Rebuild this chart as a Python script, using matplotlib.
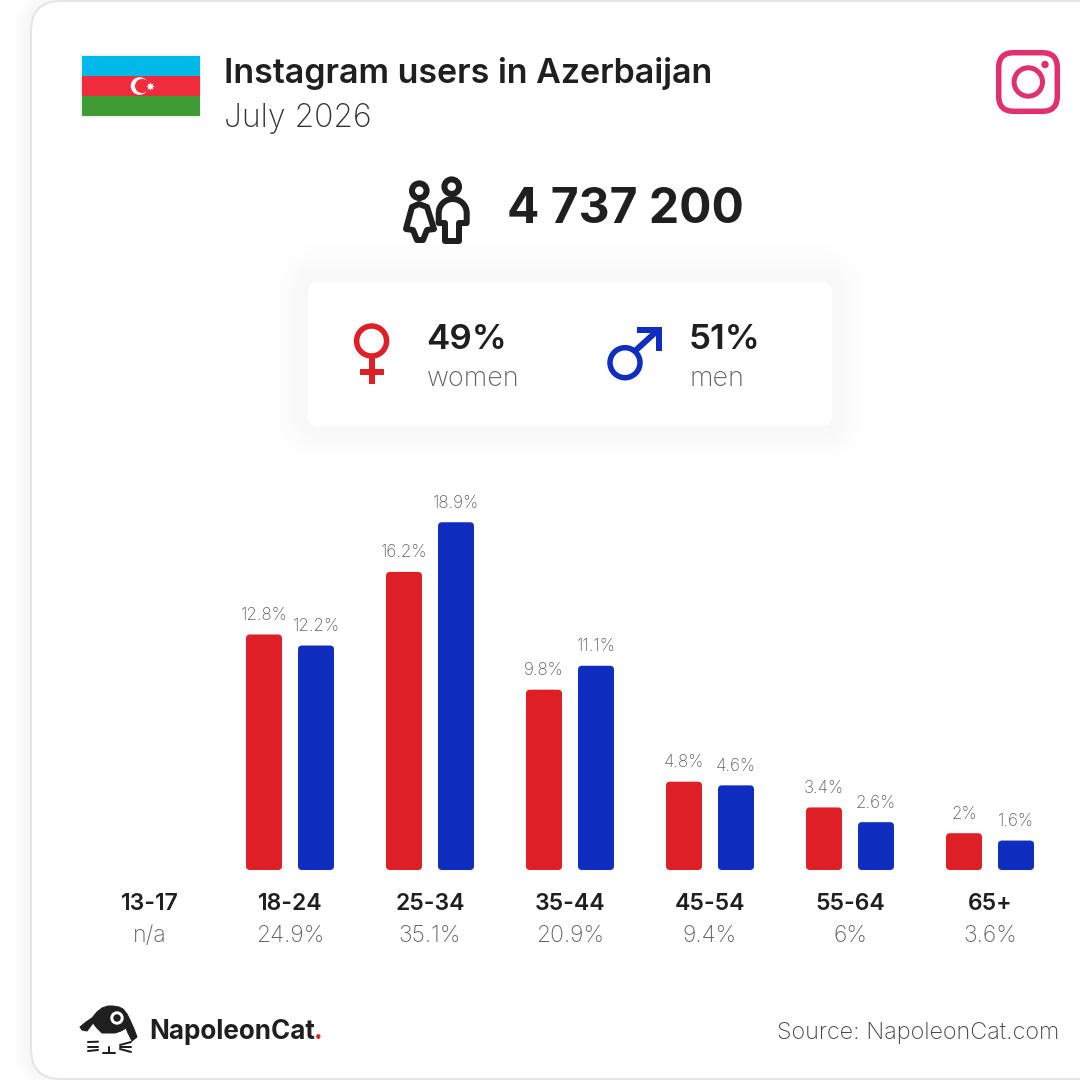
import numpy as np
import matplotlib
matplotlib.use('Agg')
import matplotlib.pyplot as plt
from matplotlib.patches import FancyBboxPatch, Circle, Rectangle, Polygon

age_groups = ['13-17', '18-24', '25-34', '35-44', '45-54', '55-64', '65+']
total_labels = ['n/a', '24.9%', '35.1%', '20.9%', '9.4%', '6%', '3.6%']
women_share = [np.nan, 12.8, 16.2, 9.8, 4.8, 3.4, 2.0]
men_share = [np.nan, 12.2, 18.9, 11.1, 4.6, 2.6, 1.6]
women_labels = ['', '12.8%', '16.2%', '9.8%', '4.8%', '3.4%', '2%']
men_labels = ['', '12.2%', '18.9%', '11.1%', '4.6%', '2.6%', '1.6%']

RED = '#df1f26'
BLUE = '#0f2ec0'
DARK = '#1f1f1f'
GREY = '#626262'
PINK = '#e1306c'
FONT = 'Inter'
LIGHT = 200

PX = 72 / 100  # one pixel in points at dpi 100


def fs(px):
    return px * PX


fig = plt.figure(figsize=(10.8, 10.8), dpi=100, facecolor='white')

# overlay in pixel coordinates for the card, header and icons
bg = fig.add_axes([0, 0, 1, 1])
bg.axis('off')


def round_box(ax, x0, y0, x1, y1, r, **kw):
    p = FancyBboxPatch((x0 + r, y0 + r), x1 - x0 - 2 * r, y1 - y0 - 2 * r,
                       boxstyle=f'round,pad={r},rounding_size={r}', **kw)
    ax.add_patch(p)
    return p


def soft_shadow(ax, x0, y0, x1, y1, r, sigma, strength, zorder):
    # blurred look from the distance to a rounded box
    yy, xx = np.mgrid[0:1080, 0:1080] + 0.5
    cx, cy = (x0 + x1) / 2, (y0 + y1) / 2
    qx = np.abs(xx - cx) - (x1 - x0) / 2 + r
    qy = np.abs(yy - cy) - (y1 - y0) / 2 + r
    d = np.hypot(np.maximum(qx, 0), np.maximum(qy, 0)) + np.minimum(np.maximum(qx, qy), 0) - r
    level = strength * np.exp(-(np.maximum(d, 0) / sigma) ** 2)
    img = 1 - level
    ax.imshow(img, cmap='gray', vmin=0, vmax=1, extent=(0, 1080, 1080, 0), aspect='auto',
              interpolation='nearest', zorder=zorder, alpha=(level > 0.002).astype(float))


# card
soft_shadow(bg, 31, 1, 1180, 1079, 30, 14, 0.035, 0.1)
round_box(bg, 31, 1, 1180, 1079, 30, fc='white', ec='#e4e4e4', lw=2 * PX, zorder=0.2)

# flag
bg.add_patch(Rectangle((80, 54), 121, 64, fc='#f1f1f1', ec='none'))
bg.add_patch(Rectangle((82, 56), 118, 20, fc='#00b9e8', ec='none'))
bg.add_patch(Rectangle((82, 76), 118, 20, fc='#ef2b3c', ec='none'))
bg.add_patch(Rectangle((82, 96), 118, 20, fc='#3f9c35', ec='none'))
bg.add_patch(Circle((139.5, 86), 8.8, fc='white', ec='none'))
bg.add_patch(Circle((142, 86), 7, fc='#ef2b3c', ec='none'))
bg.plot([150], [86], marker=(8, 1, 0), ms=8 * PX * 1.1, color='white', mew=0)

# header
bg.text(224, 74, 'Instagram users in Azerbaijan', fontsize=fs(34), fontweight=600,
        family=FONT, color=DARK, va='center', ha='left')
bg.text(224, 119, 'July 2026', fontsize=fs(32), fontweight=LIGHT,
        family=FONT, color='#333333', va='center', ha='left')
bg.text(507, 210, '4 737 200', fontsize=fs(48), fontweight=700,
        family=FONT, color=DARK, va='center', ha='left')

# instagram icon
round_box(bg, 998.7, 52.7, 1057.3, 111.3, 15, fc='none', ec=PINK, lw=5.5 * PX)
bg.add_patch(Circle((1028.3, 82), 14.2, fc='none', ec=PINK, lw=5 * PX))
bg.add_patch(Circle((1045, 64.5), 3.7, fc=PINK, ec='none'))

# people icon
ICON_LW = 6 * PX
bg.add_patch(Circle((419.3, 190.7), 7.3, fc='none', ec=DARK, lw=ICON_LW))
bg.add_patch(Circle((451.7, 186.7), 7.3, fc='none', ec=DARK, lw=ICON_LW))
woman = [(419, 204), (412, 207), (406, 229), (413, 230), (417, 240), (423, 240),
         (427, 230), (434, 229), (427, 207)]
bg.add_patch(Polygon(woman, closed=True, fc='none', ec=DARK, lw=ICON_LW, joinstyle='round'))
t = np.linspace(np.pi, 0, 20)
dome = [(452.7 + 14 * np.cos(a), 213 - 14 * np.sin(a)) for a in t]
man = [(445, 241), (445, 223), (438.7, 223)] + dome + [(466.7, 223), (459, 223), (459, 241)]
bg.add_patch(Polygon(man, closed=True, fc='none', ec=DARK, lw=ICON_LW, joinstyle='round'))

# gender panel
soft_shadow(bg, 308, 282, 832, 426, 10, 28, 0.028, 0.5)
round_box(bg, 308, 282, 832, 426, 10, fc='white', ec='none')

bg.add_patch(Circle((371.6, 341), 15, fc='none', ec=RED, lw=5.5 * PX))
bg.add_patch(Rectangle((368.6, 356), 6, 28, fc=RED, ec='none'))
bg.add_patch(Rectangle((360, 369), 24, 6, fc=RED, ec='none'))

bg.add_patch(Circle((625, 362.7), 15, fc='none', ec=BLUE, lw=5.5 * PX))
bg.plot([635, 657], [351, 331], color=BLUE, lw=6 * PX, solid_capstyle='butt')
bg.add_patch(Polygon([(637, 327), (661.5, 327), (661.5, 351), (655.5, 351), (655.5, 333), (637, 333)],
                     closed=True, fc=BLUE, ec='none'))

bg.text(426, 340, '49%', fontsize=fs(35), fontweight=600, family=FONT, color=DARK, va='center')
bg.text(427, 379, 'women', fontsize=fs(27), fontweight=LIGHT, family=FONT, color=GREY, va='center')
bg.text(689, 340, '51%', fontsize=fs(35), fontweight=600, family=FONT, color=DARK, va='center')
bg.text(689, 379, 'men', fontsize=fs(27), fontweight=LIGHT, family=FONT, color=GREY, va='center')

# logo
hat = [(80, 1027), (86, 1022), (92, 1018), (97, 1012), (102, 1008), (108, 1006), (113, 1006), (119, 1007),
       (123, 1009), (127, 1014), (130, 1020), (134, 1029), (137, 1037), (132, 1041), (128, 1033), (126, 1028),
       (121, 1031), (115, 1033), (102, 1033), (97, 1028), (93, 1023), (87, 1031), (82, 1030)]
bg.add_patch(Polygon(hat, closed=True, fc=DARK, ec=DARK, lw=1 * PX, joinstyle='round'))
bg.add_patch(Circle((117, 1018), 6.7, fc='white', ec='none'))
bg.add_patch(Circle((117, 1018), 3.7, fc=DARK, ec='none'))
for x0, y0, x1, y1 in [(88, 1042, 98, 1041.7), (88, 1047, 98, 1047), (88, 1051, 98, 1050),
                       (120, 1045, 131, 1042), (120, 1047, 131, 1047), (120, 1049, 131, 1052),
                       (103, 1053, 115, 1053), (109, 1047, 109, 1053)]:
    bg.plot([x0, x1], [y0, y1], color=DARK, lw=2 * PX, solid_capstyle='round')
bg.text(149, 1032, 'NapoleonCat', fontsize=fs(26), fontweight=700, family=FONT, color=DARK, va='center')
bg.text(314, 1032, '.', fontsize=fs(26), fontweight=700, family=FONT, color='#e8212e', va='center')
bg.text(1059, 1033, 'Source: NapoleonCat.com', fontsize=fs(23.4), fontweight=LIGHT, family=FONT,
        color='#444444', va='center', ha='right')

bg.set_xlim(0, 1080)
bg.set_ylim(1080, 0)

# bars: x axis 80..1060 px, baseline at y=870 px, 18.4 px per percent
Y_TOP = 20
ax = fig.add_axes([80 / 1080, (1080 - 870) / 1080, 980 / 1080, Y_TOP * 18.4 / 1080])
ax.patch.set_alpha(0)
ax.set_xlim(-0.5, 6.5)
ax.set_ylim(0, Y_TOP)
ax.axis('off')

x = np.arange(len(age_groups))
bar_w = 36 / 140
offset = 26 / 140
aspect = 140 / 18.4


def rounded_bars(xs, values, labels, color):
    bars = ax.bar(xs, values, width=bar_w, color=color)
    for b, label in zip(bars, labels):
        h = b.get_height()
        if np.isnan(h):
            continue
        b.set_visible(False)
        rad = 4 / 140
        ax.add_patch(FancyBboxPatch((b.get_x() + rad, rad * aspect), bar_w - 2 * rad, h - 2 * rad * aspect,
                                    boxstyle=f'round,pad={rad},rounding_size={rad}',
                                    mutation_aspect=aspect, fc=color, ec='none'))
        ax.annotate(label, (b.get_x() + bar_w / 2, h), xytext=(0, 19 * PX), textcoords='offset points',
                    ha='center', va='center', fontsize=fs(17), fontweight=LIGHT, family=FONT, color=GREY)


rounded_bars(x - offset, women_share, women_labels, RED)
rounded_bars(x + offset, men_share, men_labels, BLUE)

# age labels under the bars
for i, (age, total) in enumerate(zip(age_groups, total_labels)):
    cx = 80 + (i + 0.5) * 140
    bg.text(cx, 904, age, fontsize=fs(23), fontweight=600, family=FONT, color=DARK, ha='center', va='center')
    bg.text(cx, 936, total, fontsize=fs(23), fontweight=LIGHT, family=FONT, color=GREY, ha='center', va='center')

fig.savefig('out.png', dpi=100)
